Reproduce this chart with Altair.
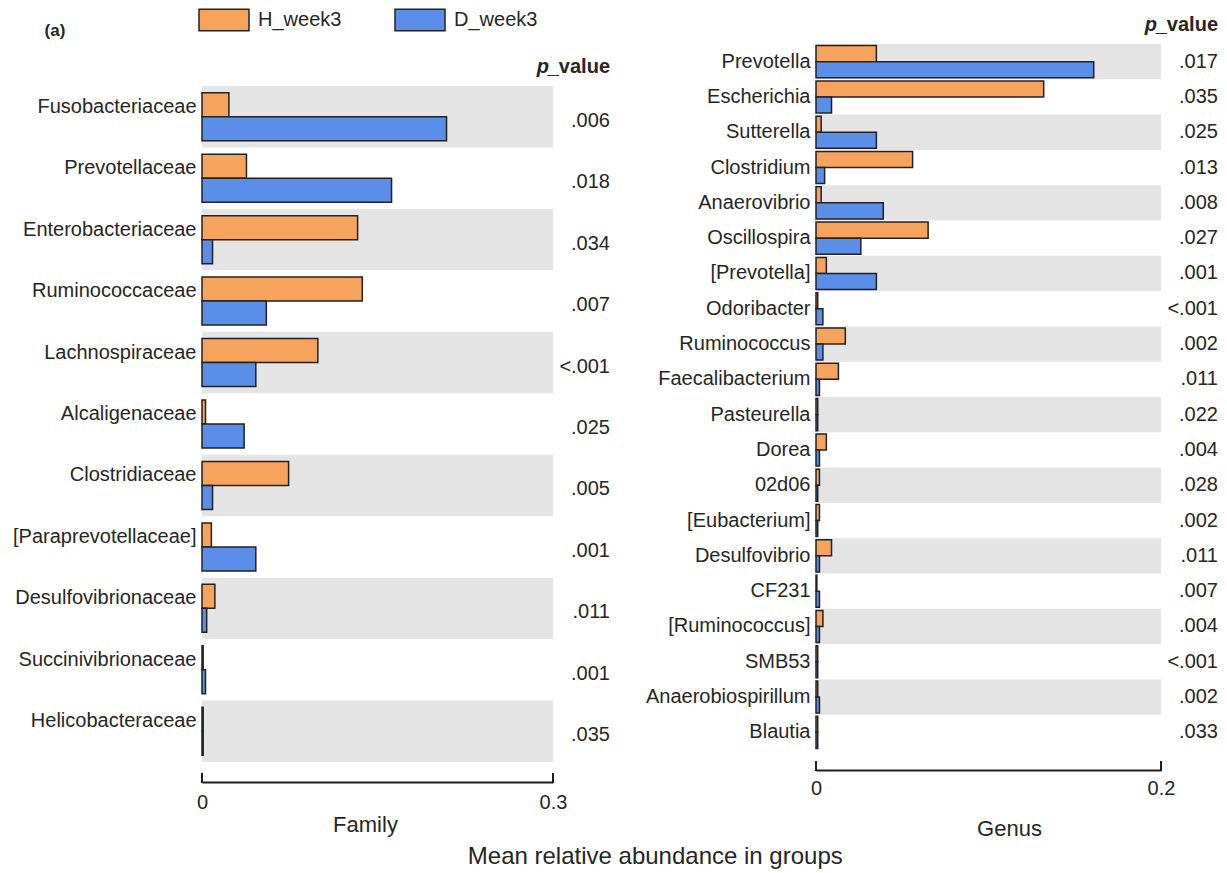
import altair as alt
import pandas as pd

FONT = "Liberation Sans"
TXT = "#262626"

# ---------------- data ----------------
fam_names = ["Fusobacteriaceae", "Prevotellaceae", "Enterobacteriaceae", "Ruminococcaceae",
             "Lachnospiraceae", "Alcaligenaceae", "Clostridiaceae", "[Paraprevotellaceae]",
             "Desulfovibrionaceae", "Succinivibrionaceae", "Helicobacteraceae"]
fam_h = [0.023, 0.038, 0.133, 0.137, 0.099, 0.003, 0.074, 0.008, 0.011, 0.001, 0.001]
fam_d = [0.209, 0.162, 0.009, 0.055, 0.046, 0.036, 0.009, 0.046, 0.004, 0.003, 0.001]
fam_p = [".006", ".018", ".034", ".007", "<.001", ".025", ".005", ".001", ".011", ".001", ".035"]

gen_names = ["Prevotella", "Escherichia", "Sutterella", "Clostridium", "Anaerovibrio",
             "Oscillospira", "[Prevotella]", "Odoribacter", "Ruminococcus", "Faecalibacterium",
             "Pasteurella", "Dorea", "02d06", "[Eubacterium]", "Desulfovibrio", "CF231",
             "[Ruminococcus]", "SMB53", "Anaerobiospirillum", "Blautia"]
gen_h = [0.035, 0.132, 0.003, 0.056, 0.003, 0.065, 0.006, 0.001, 0.017, 0.013,
         0.001, 0.006, 0.002, 0.002, 0.009, 0.0005, 0.004, 0.001, 0.001, 0.001]
gen_d = [0.161, 0.009, 0.035, 0.005, 0.039, 0.026, 0.035, 0.004, 0.004, 0.002,
         0.001, 0.002, 0.001, 0.001, 0.002, 0.002, 0.002, 0.001, 0.002, 0.001]
gen_p = [".017", ".035", ".025", ".013", ".008", ".027", ".001", "<.001", ".002", ".011",
         ".022", ".004", ".028", ".002", ".011", ".007", ".004", "<.001", ".002", ".033"]

groups = ["H_week3", "D_week3"]
group_colors = ["#F6A35D", "#5A8EE8"]
band_color = "#e4e4e4"
edge = "#222222"


def panel(names, h_vals, d_vals, p_vals, xmax, W, H, top, xtitle, pad_outer, lab_off, p_dy,
          axis_off, lab_pad, title_pad, title_x, header_y, legend, extras):
    n = len(names)
    long = pd.DataFrame({
        "name": names + names,
        "group": [groups[0]] * n + [groups[1]] * n,
        "value": h_vals + d_vals,
    })
    rows = pd.DataFrame({"name": names, "p": p_vals, "idx": list(range(n))})
    ticks = pd.DataFrame({"value": [0, xmax]})

    yenc = alt.Y("name:N",
                 scale=alt.Scale(domain=names, paddingInner=0, paddingOuter=0,
                                 range=[top, H]),
                 axis=alt.Axis(title=None, domain=False, ticks=False, labelFontSize=20,
                               labelFont=FONT, labelColor=TXT, labelPadding=6,
                               labelOffset=lab_off, labelLimit=400))
    xenc = alt.X("value:Q",
                 scale=alt.Scale(domain=[0, xmax], nice=False, zero=True),
                 axis=alt.Axis(values=[0, xmax], format="~g", title=xtitle, offset=axis_off,
                               domainColor="#1e1e1e", domainWidth=2, ticks=False, grid=False,
                               labelFlush=False, labelFontSize=20, labelFont=FONT,
                               labelColor=TXT, labelPadding=lab_pad, titleFontSize=22,
                               titleFont=FONT, titleFontWeight="normal", titleColor=TXT,
                               titlePadding=title_pad, titleX=title_x))

    bands = alt.Chart(rows).transform_filter("datum.idx % 2 == 0").mark_rect(
        color=band_color).encode(y=yenc, x=alt.value(0), x2=alt.value(W))

    bars = alt.Chart(long).mark_bar(stroke=edge, strokeWidth=1.5).encode(
        x=xenc, y=yenc,
        yOffset=alt.YOffset("group:N", sort=groups,
                            scale=alt.Scale(domain=groups, paddingOuter=pad_outer, paddingInner=0)),
        color=alt.Color("group:N", scale=alt.Scale(domain=groups, range=group_colors),
                        legend=legend),
    )

    tick_marks = alt.Chart(ticks).mark_rule(color="#1e1e1e", strokeWidth=2).encode(
        x=xenc, y=alt.value(H + axis_off - 9), y2=alt.value(H + axis_off + 1))

    ptext = alt.Chart(rows).mark_text(align="right", baseline="middle", fontSize=20,
                                      font=FONT, color=TXT, dy=p_dy).encode(
        y=yenc, x=alt.value(W + 57), text="p:N")

    hdr = pd.DataFrame({"a": ["p"], "b": ["_value"]})
    h1 = alt.Chart(hdr).mark_text(align="right", baseline="middle", fontSize=20,
                                  fontWeight="bold", font=FONT, color=TXT).encode(
        x=alt.value(W + 57), y=alt.value(header_y), text="b:N")
    h2 = alt.Chart(hdr).mark_text(align="right", baseline="middle", fontSize=20,
                                  fontWeight="bold", fontStyle="italic", font=FONT,
                                  color=TXT).encode(
        x=alt.value(W + 57 - 61), y=alt.value(header_y), text="a:N")

    return alt.layer(bands, bars, tick_marks, ptext, h1, h2, *extras).properties(
        width=W, height=H)


# wide swatch drawn from a small symbol size so the legend row stays compact
legend = alt.Legend(title=None, orient="none", legendX=8.5, legendY=-38,
                    direction="horizontal", symbolType="M-2,-0.86H2V0.86H-2Z",
                    symbolSize=625, symbolStrokeColor=edge, symbolStrokeWidth=1.5,
                    symbolOpacity=1, labelFontSize=20, labelFont=FONT, labelColor=TXT,
                    labelOffset=20.5, columnPadding=50, padding=0)

tag = alt.Chart(pd.DataFrame({"t": ["(a)"]})).mark_text(
    align="center", baseline="middle", fontSize=17, fontWeight="bold", font=FONT,
    color=TXT).encode(x=alt.value(-147), y=alt.value(-13), text="t:N")

# left panel plot area starts 42px below the right one (bands begin at 'top')
left = panel(fam_names, fam_h, fam_d, fam_p, 0.3, 351, 718, 42, "Family", 0.28, -10, 4,
             20, 10, 2, 163, 23, legend, [tag])
right = panel(gen_names, gen_h, gen_d, gen_p, 0.2, 345, 706, 0, "Genus", 0.1, 0, 0,
              20, 8, 20, 193, -19, None, [])

chart = alt.hconcat(left, right, spacing=35).resolve_scale(
    x="independent", y="independent", yOffset="independent"
).resolve_legend(color="independent").properties(
    padding={"left": 12, "top": 6, "right": 5, "bottom": 0},
    title=alt.TitleParams("Mean relative abundance in groups", orient="bottom",
                          anchor="middle", fontSize=24, fontWeight="normal", font=FONT,
                          color=TXT, offset=6, dx=40),
).configure_view(stroke=None)

chart.save("out.html", embed_options={"renderer": "svg", "actions": False})
